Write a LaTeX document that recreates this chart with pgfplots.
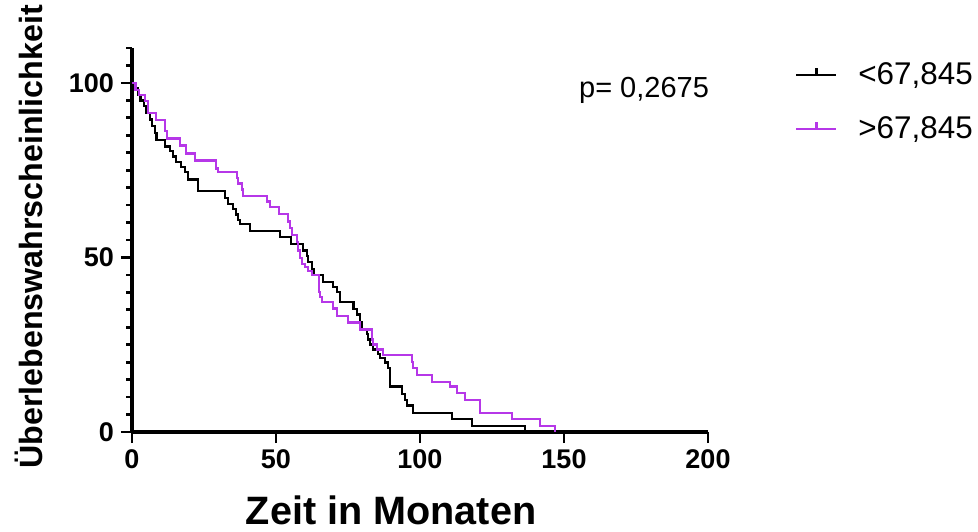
\documentclass[border=0pt]{standalone}
\usepackage{pgfplots}
\pgfplotsset{compat=1.18}
\usepackage{fontspec}
\setmainfont{Liberation Sans}
\definecolor{kmpurple}{RGB}{182,55,232}

\pgfplotstableread{
x y
0 100
1.0 98.5
2.1 96.5
3.0 95.0
4.2 93.3
5.0 91.4
6.3 89.5
6.9 87.6
8.0 85.6
8.5 83.6
11.5 81.8
13.2 80.5
14.2 78.9
15.3 77.4
17.0 76.0
18.4 74.5
19.4 72.3
22.9 69.0
32.3 67.0
33.3 65.4
35.0 63.8
36.0 62.3
36.8 60.8
37.5 59.5
41.0 57.6
51.4 55.9
55.2 53.9
59.4 52.0
60.8 50.4
61.2 48.7
62.5 46.7
63.0 44.9
66.3 43.0
69.8 41.5
71.2 40.1
72.2 37.2
76.9 35.2
78.1 33.7
79.2 31.4
79.9 29.6
81.6 28.0
82.0 26.5
82.6 25.1
83.7 23.6
85.4 22.4
86.1 21.1
87.8 19.9
88.9 18.4
89.6 13.0
93.8 10.9
94.8 9.2
95.5 7.6
97.6 5.5
111.0 3.7
118.0 1.8
136.5 0
}\lowgroup

\pgfplotstableread{
x y
0 100
1.2 98.0
2.4 96.5
4.5 94.8
5.6 91.4
8.3 89.3
11.5 86.2
12.2 84.1
16.7 82.1
18.8 79.8
21.9 77.8
29.2 75.5
29.9 74.4
36.5 72.8
36.9 71.2
38.2 69.5
38.6 67.7
46.9 66.0
47.9 64.4
51.0 62.5
54.2 60.3
54.9 58.4
55.6 56.5
57.3 54.5
57.6 52.0
58.3 49.8
59.0 48.1
60.1 47.2
61.1 46.1
62.5 45.0
64.9 40.1
65.3 38.6
66.0 37.3
69.8 35.4
71.2 33.3
75.0 31.4
79.2 29.4
83.3 26.5
83.7 25.1
85.1 23.6
87.2 22.0
97.2 20.0
97.6 18.3
99.0 16.4
104.2 14.4
110.4 13.0
112.8 11.2
115.6 9.2
120.8 5.5
131.9 3.7
141.7 1.8
146.9 0
}\highgroup

\begin{document}
\begin{tikzpicture}
\useasboundingbox (-66pt,-49.5pt) rectangle (423pt,216pt);
\begin{axis}[
  scale only axis,
  width=288pt, height=192pt,
  xmin=0, xmax=200, ymin=0, ymax=110,
  axis x line=bottom, axis y line=left,
  axis line style={-, line width=1.6pt},
  x axis line style={-}, y axis line style={-},
  xtick={0,50,100,150,200},
  ytick={0,50,100},
  minor ytick={5,10,...,110},
  tick align=outside,
  major tick length=5.5pt, minor tick length=2.8pt,
  every tick/.style={line width=1.35pt, black},
  /pgf/number format/assume math mode=true,
  ticklabel style={font=\fontsize{13.5}{16}\selectfont\bfseries},
  xlabel={Zeit in Monaten},
  ylabel={Überlebenswahrscheinlichkeit},
  xlabel style={font=\fontsize{19.8}{23}\selectfont\bfseries, at={(axis description cs:0.4497,-0.241)}, anchor=base},
  ylabel style={font=\fontsize{16.1}{19}\selectfont\bfseries, at={(axis description cs:-0.156,0.508)}, anchor=base},
  clip=false,
  legend cell align=left,
  legend style={draw=none, fill=none, at={(1.151,0.974)}, anchor=north west,
    font=\fontsize{15.7}{18}\selectfont, inner sep=0pt, row sep=10.5pt,
    /tikz/every odd column/.append style={column sep=8.5pt}},
  legend image code/.code={
    \draw[#1, line width=1pt] (0pt,0pt) -- (20pt,0pt);
    \draw[#1, line width=1.6pt] (10pt,0pt) -- (10pt,3.5pt);
  },
]
\addplot[const plot, black, line width=1.15pt] table[x=x, y=y] {\lowgroup};
\addlegendentry{<67,845}
\addplot[const plot, kmpurple, line width=1.15pt] table[x=x, y=y] {\highgroup};
\addlegendentry{>67,845}
\node[font=\fontsize{14.5}{17}\selectfont] at (axis cs:177.8,98.0) {p= 0,2675};
\end{axis}
\end{tikzpicture}
\end{document}
